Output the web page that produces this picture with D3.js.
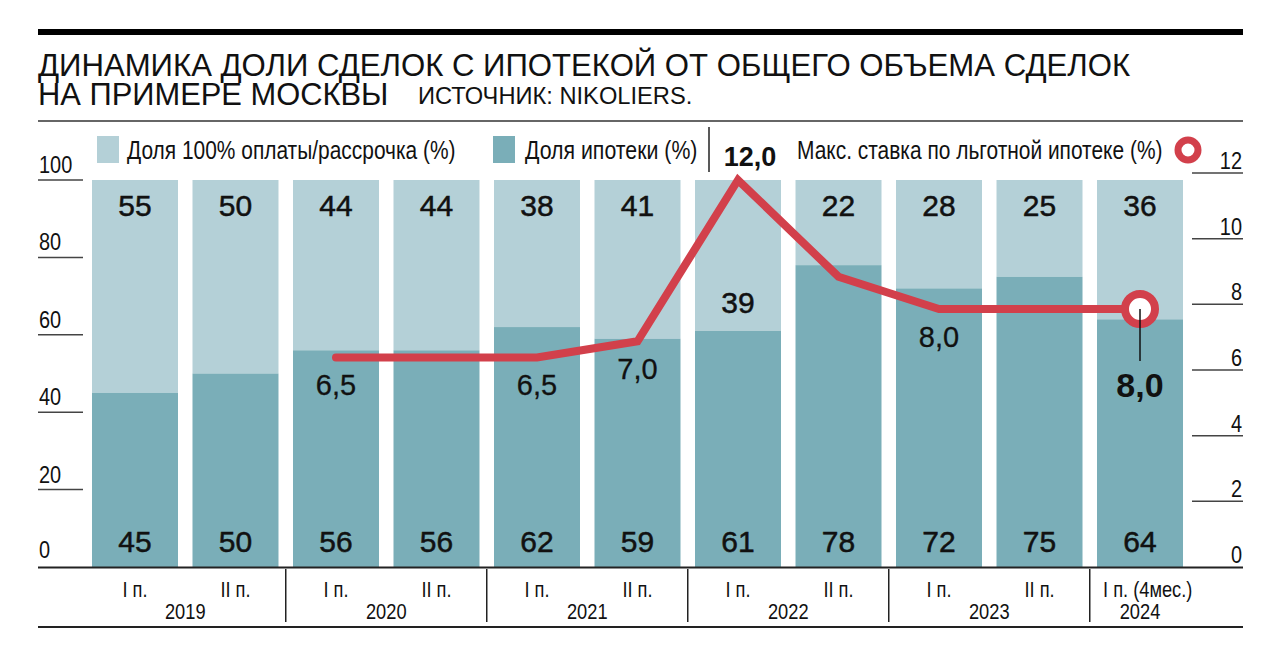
<!DOCTYPE html>
<html>
<head>
<meta charset="utf-8">
<script src="https://cdn.jsdelivr.net/npm/d3@7"></script>
<style>
  html, body { margin: 0; padding: 0; background: #fff; }
  svg text { font-family: "Liberation Sans", Arial, sans-serif; fill: #111; }
</style>
</head>
<body>
<div id="chart"></div>
<script>
// data
const categories = ["2019 I", "2019 II", "2020 I", "2020 II", "2021 I", "2021 II",
                    "2022 I", "2022 II", "2023 I", "2023 II", "2024 I"];
const periodLabels = ["I п.", "II п.", "I п.", "II п.", "I п.", "II п.",
                      "I п.", "II п.", "I п.", "II п.", "I п. (4мес.)"];
const yearLabels = ["2019", "2020", "2021", "2022", "2023", "2024"];
const yearOf = ["2019", "2019", "2020", "2020", "2021", "2021", "2022", "2022", "2023", "2023", "2024"];
const mortgageShare = [45, 50, 56, 56, 62, 59, 61, 78, 72, 75, 64];
const cashShare = [55, 50, 44, 44, 38, 41, 39, 22, 28, 25, 36];
const maxRate = [null, null, 6.5, 6.5, 6.5, 7.0, 12.0, 9.0, 8.0, 8.0, 8.0];
const rateLabels = [null, null, "6,5", null, "6,5", "7,0", "12,0", null, "8,0", null, "8,0"];
const shareTicks = [0, 20, 40, 60, 80, 100];
const rateTicks = [0, 2, 4, 6, 8, 10, 12];

const W = 1280, H = 668;
const LIGHT = "#b4d0d7", DARK = "#7aaeb8", RED = "#d2404b";
const SX = 0.83; // condensed look

const svg = d3.select("#chart").append("svg")
    .attr("width", W).attr("height", H);

// condensed text helper
function ctext(g, x, y, str, size, anchor, sx) {
    return g.append("text")
        .attr("transform", `translate(${x},${y}) scale(${sx || SX},1)`)
        .attr("text-anchor", anchor || "start")
        .style("font-size", size + "px")
        .text(str);
}

// scales
const x = d3.scaleBand()
    .domain(categories)
    .range([84.75, 1190.25])
    .paddingInner(0.1443)
    .paddingOuter(0.0721);
const bw = x.bandwidth();
const cx = c => x(c) + bw / 2;

const yShare = d3.scaleLinear().domain([0, 100]).range([567, 180]);
const yRate = d3.scaleLinear().domain([0, 12]).range([567, 180]);
const yRateAxis = d3.scaleLinear().domain([0, 12]).range([567, 173]);

// header
svg.append("rect").attr("x", 38).attr("y", 29).attr("width", 1205).attr("height", 6).attr("fill", "#000");
ctext(svg, 38, 76, "ДИНАМИКА ДОЛИ СДЕЛОК С ИПОТЕКОЙ ОТ ОБЩЕГО ОБЪЕМА СДЕЛОК", 32, "start", 0.973);
ctext(svg, 38, 105, "НА ПРИМЕРЕ МОСКВЫ", 32, "start", 0.965);
ctext(svg, 418, 104, "ИСТОЧНИК: NIKOLIERS.", 23, "start", 1.03);
svg.append("line").attr("x1", 38).attr("x2", 1243).attr("y1", 121).attr("y2", 121)
    .attr("stroke", "#333").attr("stroke-width", 1.5);

// legend
const leg = svg.append("g");
leg.append("rect").attr("x", 97).attr("y", 136).attr("width", 22).attr("height", 27).attr("fill", LIGHT);
ctext(leg, 127, 159, "Доля 100% оплаты/рассрочка (%)", 26, "start", 0.805);
leg.append("rect").attr("x", 493).attr("y", 136).attr("width", 22).attr("height", 27).attr("fill", DARK);
ctext(leg, 525, 159, "Доля ипотеки (%)", 26, "start", 0.82);
leg.append("line").attr("x1", 709).attr("x2", 709).attr("y1", 127).attr("y2", 172)
    .attr("stroke", "#222").attr("stroke-width", 1.5);
ctext(leg, 797, 159, "Макс. ставка по льготной ипотеке (%)", 26, "start", 0.805);
leg.append("circle").attr("cx", 1188).attr("cy", 150).attr("r", 10)
    .attr("fill", "#fff").attr("stroke", RED).attr("stroke-width", 7);

// left axis
const la = svg.append("g");
shareTicks.filter(t => t > 0).forEach(t => {
    la.append("line").attr("x1", 38).attr("x2", 83).attr("y1", yShare(t)).attr("y2", yShare(t))
        .attr("stroke", "#444").attr("stroke-width", 1.5);
});
shareTicks.forEach(t => ctext(la, 39, yShare(t) - (t === 0 ? 9 : 7), String(t), 24));

// right axis
const ra = svg.append("g");
rateTicks.filter(t => t > 0).forEach(t => {
    ra.append("line").attr("x1", 1192).attr("x2", 1243).attr("y1", yRateAxis(t)).attr("y2", yRateAxis(t))
        .attr("stroke", "#444").attr("stroke-width", 1.5);
});
rateTicks.forEach(t => ctext(ra, 1242, yRateAxis(t) - 4, String(t), 24, "end"));

// bars
const rows = categories.map((c, i) => ({ c, i, m: mortgageShare[i], s: cashShare[i] }));
const bars = svg.append("g");
bars.selectAll(".cash").data(rows).join("rect")
    .attr("class", "cash")
    .attr("x", d => x(d.c)).attr("width", bw)
    .attr("y", d => yShare(d.m + d.s)).attr("height", d => yShare(d.m) - yShare(d.m + d.s))
    .attr("fill", LIGHT);
bars.selectAll(".mort").data(rows).join("rect")
    .attr("class", "mort")
    .attr("x", d => x(d.c)).attr("width", bw)
    .attr("y", d => yShare(d.m)).attr("height", d => yShare(0) - yShare(d.m))
    .attr("fill", DARK);

// bar value labels
const vl = svg.append("g")
    .style("font-size", "30px")
    .attr("text-anchor", "middle");
vl.selectAll(".vt").data(rows).join("text")
    .attr("class", "vt")
    .attr("x", d => cx(d.c))
    .attr("y", d => (maxRate[d.i] !== null && maxRate[d.i] >= 11) ? yShare(d.m) - 18 : 216)
    .style("stroke", "#111").style("stroke-width", 0.5)
    .text(d => d.s);
vl.selectAll(".vb").data(rows).join("text")
    .attr("class", "vb")
    .attr("x", d => cx(d.c)).attr("y", 552)
    .style("stroke", "#111").style("stroke-width", 0.5)
    .text(d => d.m);

// rate line
const ratePts = categories.map((c, i) => ({ c, i, v: maxRate[i], label: rateLabels[i] }));
const line = d3.line()
    .defined(d => d.v !== null)
    .x(d => cx(d.c))
    .y(d => yRate(d.v));
svg.append("path")
    .datum(ratePts)
    .attr("d", line)
    .attr("fill", "none")
    .attr("stroke", RED)
    .attr("stroke-width", 8)
    .attr("stroke-linejoin", "miter")
    .attr("stroke-linecap", "round");

// rate labels
const last = ratePts[ratePts.length - 1];
const peak = ratePts.reduce((a, b) => (b.v !== null && b.v > (a.v || 0)) ? b : a);
const rl = svg.append("g").attr("text-anchor", "middle");
ratePts.filter(d => d.label && d !== last && d !== peak).forEach(d => {
    rl.append("text")
        .attr("x", cx(d.c)).attr("y", yRate(d.v) + 38)
        .style("font-size", "29px")
        .style("stroke", "#111").style("stroke-width", 0.3)
        .text(d.label);
});
rl.append("text")
    .attr("x", cx(peak.c) + 12).attr("y", 166)
    .style("font-size", "27px").style("font-weight", "bold")
    .text(peak.label);

// last point marker
svg.append("circle")
    .attr("cx", cx(last.c)).attr("cy", yRate(last.v)).attr("r", 15)
    .attr("fill", "#fff").attr("stroke", RED).attr("stroke-width", 8);
svg.append("line")
    .attr("x1", cx(last.c)).attr("x2", cx(last.c))
    .attr("y1", yRate(last.v)).attr("y2", yRate(last.v) + 52)
    .attr("stroke", "#111").attr("stroke-width", 1.5);
rl.append("text")
    .attr("x", cx(last.c)).attr("y", 397)
    .style("font-size", "34px").style("font-weight", "bold")
    .text(last.label);

// x axis
const xa = svg.append("g");
xa.append("line").attr("x1", 38).attr("x2", 1243).attr("y1", 567.5).attr("y2", 567.5)
    .attr("stroke", "#222").attr("stroke-width", 2);
xa.append("line").attr("x1", 38).attr("x2", 1243).attr("y1", 627).attr("y2", 627)
    .attr("stroke", "#222").attr("stroke-width", 2);
categories.forEach((c, i) => {
    if (i === categories.length - 1) {
        ctext(xa, x(c) + 6, 597, periodLabels[i], 22, "start");
    } else {
        ctext(xa, cx(c), 597, periodLabels[i], 22, "middle");
    }
});
yearLabels.forEach(y => {
    const cs = categories.filter((c, i) => yearOf[i] === y);
    const mid = (cx(cs[0]) + cx(cs[cs.length - 1])) / 2;
    ctext(xa, mid, 619, y, 22, "middle");
    const first = categories.indexOf(cs[0]);
    if (first > 0) {
        const sep = (x(categories[first - 1]) + bw + x(cs[0])) / 2;
        xa.append("line").attr("x1", sep).attr("x2", sep).attr("y1", 569).attr("y2", 622)
            .attr("stroke", "#222").attr("stroke-width", 1.5);
    }
});
</script>
</body>
</html>
